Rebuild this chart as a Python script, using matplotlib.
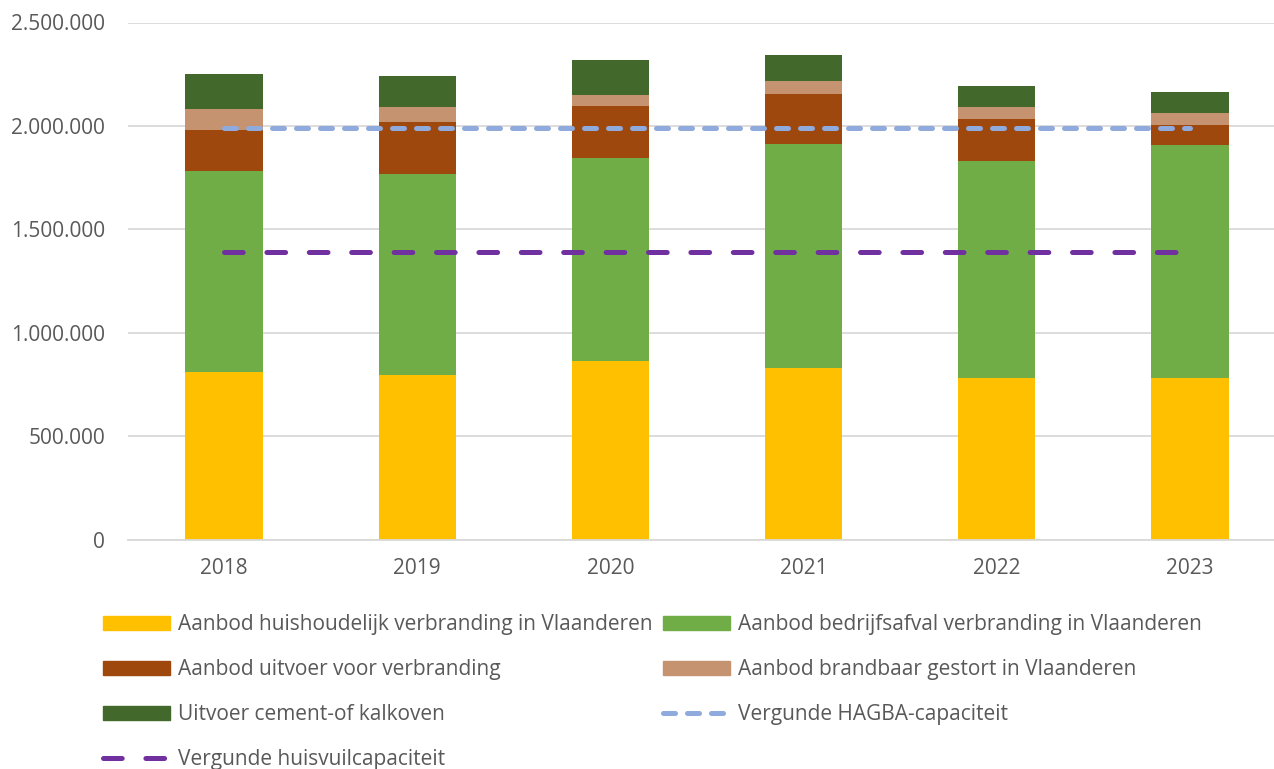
import matplotlib
matplotlib.use("Agg")
import matplotlib.pyplot as plt
from matplotlib.patches import Patch
from matplotlib.lines import Line2D
from matplotlib.ticker import FuncFormatter

plt.rcParams['font.family'] = ['Open Sans', 'DejaVu Sans']

years = ["2018", "2019", "2020", "2021", "2022", "2023"]
huishoudelijk = [810000, 794000, 863000, 831000, 783000, 783000]
bedrijfsafval = [971000, 973000, 984000, 1081000, 1048000, 1127000]
uitvoer = [199000, 253000, 250000, 243000, 202000, 95000]
gestort = [101000, 71000, 54000, 63000, 58000, 55000]
cement = [170000, 149000, 167000, 125000, 102000, 105000]
hagba_cap = [1988000] * 6
huisvuil_cap = [1392000] * 6

labels = ["Aanbod huishoudelijk verbranding in Vlaanderen",
          "Aanbod bedrijfsafval verbranding in Vlaanderen",
          "Aanbod uitvoer voor verbranding",
          "Aanbod brandbaar gestort in Vlaanderen",
          "Uitvoer cement-of kalkoven",
          "Vergunde HAGBA-capaciteit",
          "Vergunde huisvuilcapaciteit"]
colors = ["#FFC000", "#70AD47", "#9E480E", "#C5936F", "#43682B", "#8FAADC", "#7030A0"]

W, H = 1274, 769
fig = plt.figure(figsize=(W / 100, H / 100), dpi=100)
left, right = 127.5, 1286.5
top, bottom = 22.5, 539.5
ax = fig.add_axes([left / W, 1 - bottom / H, (right - left) / W, (bottom - top) / H])

x = list(range(len(years)))
series = [huishoudelijk, bedrijfsafval, uitvoer, gestort, cement]
base = [0] * len(years)
for vals, c in zip(series, colors[:5]):
    ax.bar(x, vals, width=0.4, bottom=base, color=c, zorder=2)
    base = [b + v for b, v in zip(base, vals)]

ax.plot(x, hagba_cap, color=colors[5], lw=3.6, dashes=(2.4, 2.4),
        solid_capstyle='round', dash_capstyle='round', zorder=3)
ax.plot(x, huisvuil_cap, color=colors[6], lw=3.6, dashes=(3.74, 4.74),
        solid_capstyle='round', dash_capstyle='round', zorder=3)

ax.set_xlim(-0.5, 5.5)
ax.set_ylim(0, 2500000)
ax.set_yticks(range(0, 2500001, 500000))
ax.yaxis.set_major_formatter(FuncFormatter(lambda v, p: f"{int(v):,}".replace(",", ".")))
ax.set_xticks(x)
ax.set_xticklabels(years)
ax.grid(axis='y', color='#D9D9D9', lw=1.3, zorder=0)
for s in ['top', 'right', 'left']:
    ax.spines[s].set_visible(False)
ax.spines['bottom'].set_color('#D9D9D9')
ax.spines['bottom'].set_linewidth(1.3)
ax.tick_params(axis='both', length=0, labelsize=15, colors='#595959')
ax.tick_params(axis='y', pad=16)
ax.tick_params(axis='x', pad=13)

h = [Patch(color=c) for c in colors[:5]]
h.append(Line2D([], [], color=colors[5], lw=3.6, dashes=(2.4, 2.4), dash_capstyle='round'))
h.append(Line2D([], [], color=colors[6], lw=3.6, dashes=(3.74, 4.74), dash_capstyle='round'))

kw = dict(loc='upper left', frameon=False, fontsize=15, labelcolor='#595959',
          handlelength=3.2, handleheight=0.67, handletextpad=0.38,
          labelspacing=1.16, borderaxespad=0, borderpad=0)
col1 = [0, 2, 4, 6]
col2 = [1, 3, 5]
fig.legend([h[i] for i in col1], [labels[i] for i in col1],
           bbox_to_anchor=(103 / W, 1 - 614 / H), **kw)
fig.legend([h[i] for i in col2], [labels[i] for i in col2],
           bbox_to_anchor=(663 / W, 1 - 614 / H), **kw)

fig.savefig("out.png", dpi=100)
